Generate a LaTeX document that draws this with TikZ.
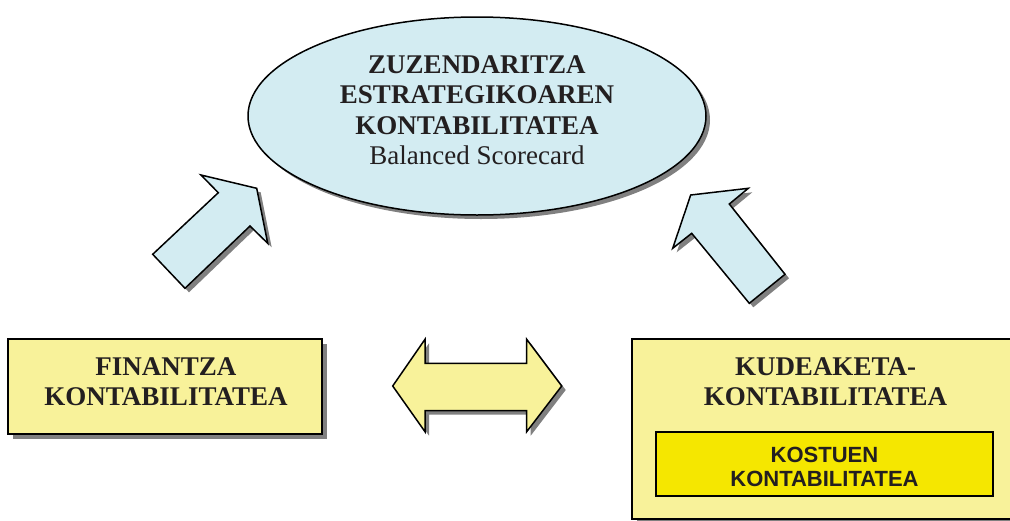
\documentclass[tikz,border=0pt]{standalone}
\usepackage{fontspec}
\setmainfont{Liberation Serif}
\newfontfamily\labelsans{Liberation Sans}
\usetikzlibrary{shapes.geometric}
\definecolor{paleblue}{HTML}{D3ECF2}
\definecolor{paleyellow}{HTML}{F8F29A}
\definecolor{brightyellow}{HTML}{F5E700}
\definecolor{shadowgray}{HTML}{808080}
\definecolor{ink}{HTML}{231F20}
\tikzset{
  outline/.style={draw=black, line width=1.5pt, line join=miter},
  titletext/.style={font=\fontsize{27}{30}\selectfont\bfseries, text=ink, inner sep=0pt, anchor=base},
  plaintext/.style={font=\fontsize{27}{30}\selectfont, text=ink, inner sep=0pt, anchor=base},
  sanstext/.style={font=\labelsans\fontsize{22}{24}\selectfont\bfseries, text=ink, inner sep=0pt, anchor=base},
}
\begin{document}
\begin{tikzpicture}[x=1pt, y=-1pt]
  \useasboundingbox (0,0) rectangle (1010,520);
  \clip (0,0) rectangle (1010,520);

  % central ellipse with drop shadow
  \fill[shadowgray] (481,120) ellipse [x radius=229, y radius=99];
  \node[ellipse, outline, fill=paleblue, minimum width=458pt, minimum height=198pt, inner sep=0pt] (bsc) at (477,116) {};
  \node[titletext] (bsc1) at (477,73) {ZUZENDARITZA};
  \node[titletext] (bsc2) at (477,103.5) {ESTRATEGIKOAREN};
  \node[titletext] (bsc3) at (477,134) {KONTABILITATEA};
  \node[plaintext] (bsc4) at (477,164.5) {Balanced Scorecard};

  % left block arrow pointing up-right
  \fill[shadowgray, shift={(4,4)}] (256.7,188.3) -- (267.7,243.3) -- (250,226) -- (185,288.3)
      -- (152.7,254.3) -- (218.3,192.7) -- (201,175) -- cycle;
  \filldraw[outline, fill=paleblue] (256.7,188.3) -- (267.7,243.3) -- (250,226) -- (185,288.3)
      -- (152.7,254.3) -- (218.3,192.7) -- (201,175) -- cycle;

  % right block arrow pointing up-left
  \fill[shadowgray, shift={(4,4)}] (690.7,195) -- (748.3,188.3) -- (729.3,204) -- (785,274.3)
      -- (749.3,303.3) -- (691.7,233.3) -- (672.7,248.3) -- cycle;
  \filldraw[outline, fill=paleblue] (690.7,195) -- (748.3,188.3) -- (729.3,204) -- (785,274.3)
      -- (749.3,303.3) -- (691.7,233.3) -- (672.7,248.3) -- cycle;

  % two-headed block arrow
  \fill[shadowgray, shift={(4,4)}] (392.7,386) -- (425,339.3) -- (425,363.3) -- (526.7,363.3)
      -- (526.7,339.3) -- (561.7,386) -- (526.7,431.7) -- (526.7,410.7) -- (425,410.7)
      -- (425,431.7) -- cycle;
  \filldraw[outline, fill=paleyellow] (392.7,386) -- (425,339.3) -- (425,363.3) -- (526.7,363.3)
      -- (526.7,339.3) -- (561.7,386) -- (526.7,431.7) -- (526.7,410.7) -- (425,410.7)
      -- (425,431.7) -- cycle;

  % financial accounting box
  \fill[shadowgray] (13,344) rectangle (327,439);
  \node[outline, fill=paleyellow, minimum width=314pt, minimum height=95pt, inner sep=0pt] (fin) at (165,386.5) {};
  \node[titletext] (fin1) at (166,375) {FINANTZA};
  \node[titletext] (fin2) at (166,405) {KONTABILITATEA};

  % management accounting box with cost accounting inside
  \fill[shadowgray] (637,344) rectangle (1023,524);
  \node[outline, fill=paleyellow, minimum width=386pt, minimum height=180pt, inner sep=0pt] (kud) at (825,429) {};
  \node[titletext] (kud1) at (825.5,375) {KUDEAKETA-};
  \node[titletext] (kud2) at (825.5,405) {KONTABILITATEA};
  \node[draw=black, line width=2.5pt, fill=brightyellow, minimum width=337pt, minimum height=64pt, inner sep=0pt] (kos) at (824.5,464) {};
  \node[sanstext] (kos1) at (824.5,462) {KOSTUEN};
  \node[sanstext] (kos2) at (824.5,486) {KONTABILITATEA};
\end{tikzpicture}
\end{document}
